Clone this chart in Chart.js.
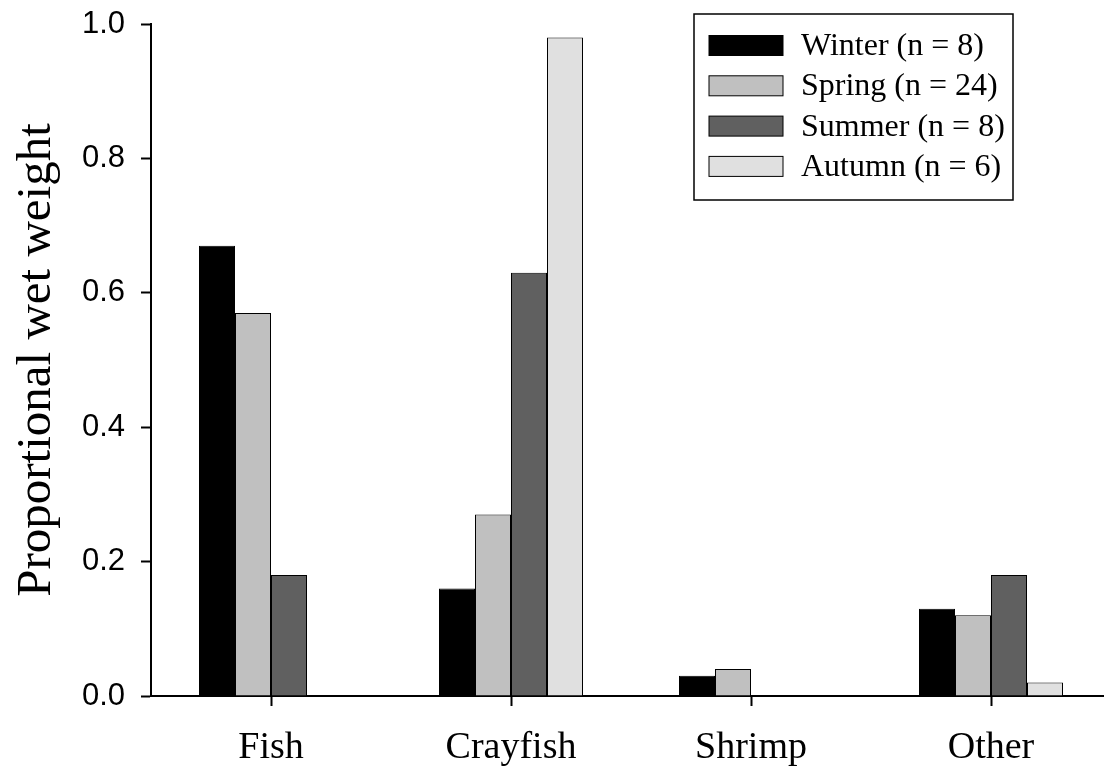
<!DOCTYPE html>
<html lang="en">
<head>
    <title>Proportional wet weight by season</title>
    <script src="https://cdn.jsdelivr.net/npm/chart.js@4/dist/chart.umd.min.js"></script>
    <style>
        html, body { margin: 0; padding: 0; background: #fff; overflow: hidden; }
    </style>
</head>
<body>
<canvas id="dietChart" width="1120" height="768"></canvas>

<script type="text/javascript">

    // prey categories and seasonal proportions
    const categories = ["Fish", "Crayfish", "Shrimp", "Other"];
    const seasonNames = ["Winter (n = 8)", "Spring (n = 24)", "Summer (n = 8)", "Autumn (n = 6)"];
    const winter = [0.67, 0.16, 0.03, 0.13];
    const spring = [0.57, 0.27, 0.04, 0.12];
    const summer = [0.18, 0.63, 0, 0.18];
    const autumn = [0, 0.98, 0, 0.02];
    const yTicks = [0, 0.2, 0.4, 0.6, 0.8, 1.0];
    const seasonColors = ["#000000", "#c0c0c0", "#606060", "#e0e0e0"];

    const serif = "'Liberation Serif', 'Times New Roman', serif";
    const sans = "'Liberation Sans', Arial, sans-serif";

    // legend drawn in a box at the top right of the plot
    const boxLegend = {
        id: "boxLegend",
        afterDraw(chart) {
            const ctx = chart.ctx;
            const area = chart.chartArea;
            const x0 = area.left + 543, y0 = area.top - 10;
            const w = 319, h = 186;
            ctx.save();
            ctx.fillStyle = "#fff";
            ctx.fillRect(x0, y0, w, h);
            ctx.lineWidth = 1.5;
            ctx.strokeStyle = "#000";
            ctx.strokeRect(x0, y0, w, h);
            ctx.font = "32px " + serif;
            ctx.textBaseline = "middle";
            chart.data.datasets.forEach((ds, i) => {
                const cy = y0 + 31.5 + i * 40.3;
                ctx.fillStyle = ds.backgroundColor;
                ctx.fillRect(x0 + 15, cy - 10, 74, 20);
                ctx.lineWidth = 1;
                ctx.strokeRect(x0 + 15, cy - 10, 74, 20);
                ctx.fillStyle = "#000";
                ctx.fillText(ds.label, x0 + 107, cy + 1);
            });
            ctx.restore();
        }
    };

    const series = [winter, spring, summer, autumn];

    new Chart("dietChart", {
        type: "bar",
        data: {
            labels: categories,
            datasets: series.map((values, i) => ({
                label: seasonNames[i],
                data: values,
                backgroundColor: seasonColors[i],
                borderColor: "#000",
                borderWidth: 1,
                borderSkipped: "bottom"
            }))
        },
        options: {
            responsive: false,
            animation: false,
            devicePixelRatio: 1,
            layout: { padding: { top: 24, right: 9, left: 0, bottom: 0 } },
            categoryPercentage: 0.6,
            barPercentage: 1.0,
            plugins: {
                legend: { display: false },
                tooltip: { enabled: false }
            },
            scales: {
                x: {
                    grid: {
                        offset: false,
                        drawOnChartArea: false,
                        tickLength: 10,
                        tickWidth: 2,
                        tickColor: "#000"
                    },
                    border: { color: "#000", width: 2 },
                    ticks: {
                        color: "#000",
                        padding: 19,
                        font: { family: serif, size: 38 }
                    },
                    afterFit: (scale) => {
                        scale.height = 72;
                        scale.paddingLeft = 0;
                        scale.paddingRight = 0;
                    }
                },
                y: {
                    min: 0,
                    max: 1.0,
                    afterBuildTicks: (scale) => {
                        scale.ticks = yTicks.map(v => ({ value: v }));
                    },
                    grid: {
                        drawOnChartArea: false,
                        tickLength: 10,
                        tickWidth: 2,
                        tickColor: "#000"
                    },
                    border: { color: "#000", width: 2 },
                    ticks: {
                        color: "#000",
                        padding: 16,
                        font: { family: sans, size: 31 },
                        callback: (v) => Number(v).toFixed(1)
                    },
                    title: {
                        display: true,
                        text: "Proportional wet weight",
                        color: "#000",
                        font: { family: serif, size: 49 },
                        padding: { top: 8, bottom: 0 }
                    },
                    afterFit: (scale) => {
                        scale.width = 151;
                        scale.paddingTop = 0;
                        scale.paddingBottom = 0;
                    }
                }
            }
        },
        plugins: [boxLegend]
    });

</script>
</body>
</html>
